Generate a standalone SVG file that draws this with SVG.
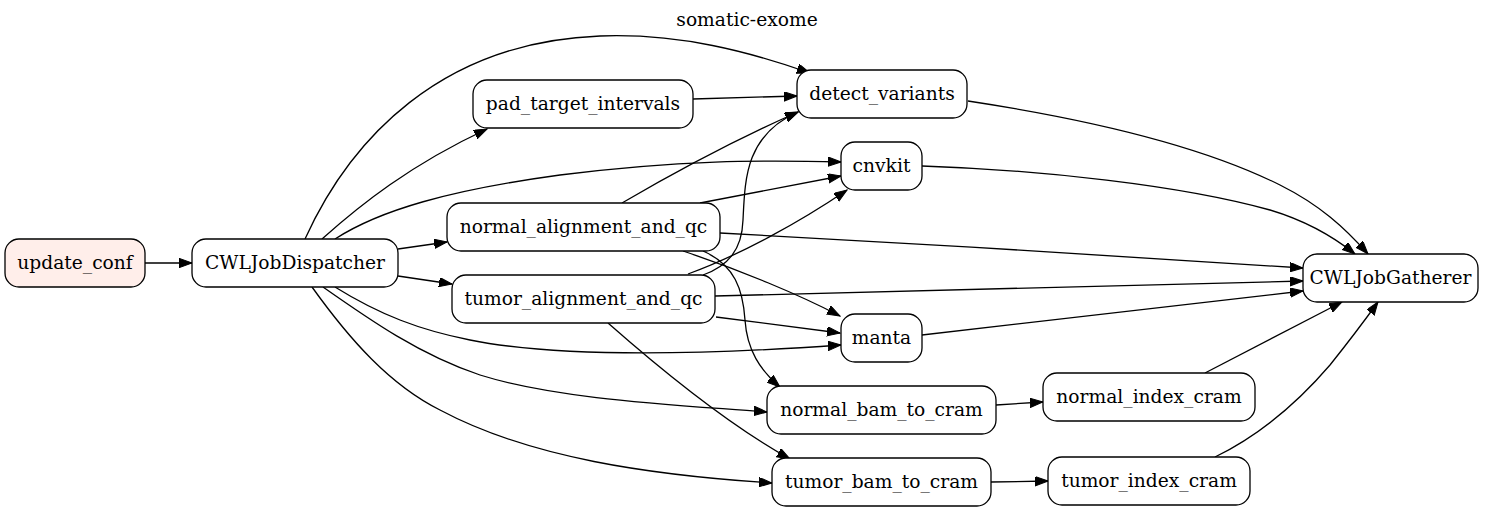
<svg xmlns="http://www.w3.org/2000/svg" width="1495" height="512" viewBox="0 0 1495 512">
<style>
.n rect{fill:#fff;stroke:#000;stroke-width:1.3}
text{font-family:'DejaVu Serif',serif;font-size:18.67px;fill:#000;text-anchor:middle}
.e path{fill:none;stroke:#000;stroke-width:1.3;marker-end:url(#ah)}
</style>
<defs>
<marker id="ah" markerUnits="userSpaceOnUse" markerWidth="14" markerHeight="10" refX="13" refY="4.7" orient="auto">
<path d="M0,0 L13,4.7 L0,9.4 z" fill="#000" stroke="#000" stroke-width="1"/>
</marker>
</defs>
<rect width="1495" height="512" fill="#fff"/>
<text x="747" y="26">somatic-exome</text>
<g class="e" id="edges">
<path d="M145,263 L192,263"/>
<path d="M305,239 C350,140 440,42 600,36 C680,33 750,52 810,73"/>
<path d="M322,239 C360,205 410,165 487,129"/>
<path d="M335,239 C380,210 450,190 560,175 C680,160 760,160 841,162"/>
<path d="M398,249 L447,242"/>
<path d="M398,276 L452,284"/>
<path d="M335,287 C380,315 420,330 470,340 C560,358 700,355 841,345"/>
<path d="M323,287 C370,320 420,355 480,375 C560,400 680,405 767,412"/>
<path d="M312,287 C350,340 390,385 440,410 C530,458 650,475 772,483"/>
<path d="M693,99 L797,96"/>
<path d="M622,203 C670,175 730,142 798,112"/>
<path d="M703,275 C728,266 742,250 743,220 C745,180 745,135 798,112"/>
<path d="M700,203 L841,176"/>
<path d="M688,274 C740,255 800,222 847,190"/>
<path d="M683,251 C740,270 800,295 840,316"/>
<path d="M703,251 C735,265 743,290 745,320 C747,350 760,370 780,387"/>
<path d="M720,233 C900,242 1150,258 1303,268"/>
<path d="M715,296 L1303,281"/>
<path d="M716,317 L840,333"/>
<path d="M608,323 C650,360 720,420 790,459"/>
<path d="M968,101 C1080,118 1200,145 1280,185 C1320,205 1345,228 1368,254"/>
<path d="M922,166 C1040,170 1180,185 1270,210 C1310,222 1335,238 1355,254"/>
<path d="M922,335 L1303,291"/>
<path d="M1205,373 L1342,302"/>
<path d="M1215,457 C1260,435 1300,400 1330,365 C1350,340 1365,320 1378,302"/>
<path d="M996,405 L1043,402"/>
<path d="M991,482 L1048,481"/>
</g>
<g class="n" id="update_conf"><rect x="5" y="239" width="140" height="48" rx="14" style="fill:#ffeeea"/><text x="75" y="269">update_conf</text></g>
<g class="n" id="CWLJobDispatcher"><rect x="192" y="239" width="206" height="48" rx="14"/><text x="295" y="269">CWLJobDispatcher</text></g>
<g class="n" id="pad_target_intervals"><rect x="473" y="80" width="220" height="48" rx="14"/><text x="583" y="110">pad_target_intervals</text></g>
<g class="n" id="detect_variants"><rect x="797" y="70" width="170" height="48" rx="14"/><text x="882" y="100">detect_variants</text></g>
<g class="n" id="cnvkit"><rect x="841" y="142" width="81" height="48" rx="14"/><text x="881.5" y="172">cnvkit</text></g>
<g class="n" id="normal_alignment_and_qc"><rect x="447" y="203" width="273" height="48" rx="14"/><text x="583.5" y="233">normal_alignment_and_qc</text></g>
<g class="n" id="tumor_alignment_and_qc"><rect x="452" y="275" width="263" height="48" rx="14"/><text x="583.5" y="305">tumor_alignment_and_qc</text></g>
<g class="n" id="manta"><rect x="841" y="314" width="81" height="48" rx="14"/><text x="881.5" y="344">manta</text></g>
<g class="n" id="normal_bam_to_cram"><rect x="767" y="386" width="229" height="48" rx="14"/><text x="881.5" y="416">normal_bam_to_cram</text></g>
<g class="n" id="normal_index_cram"><rect x="1043" y="373" width="212" height="48" rx="14"/><text x="1149" y="403">normal_index_cram</text></g>
<g class="n" id="tumor_bam_to_cram"><rect x="772" y="458" width="219" height="48" rx="14"/><text x="881.5" y="488">tumor_bam_to_cram</text></g>
<g class="n" id="tumor_index_cram"><rect x="1048" y="457" width="202" height="48" rx="14"/><text x="1149" y="487">tumor_index_cram</text></g>
<g class="n" id="CWLJobGatherer"><rect x="1303" y="254" width="175" height="48" rx="14"/><text x="1390.5" y="284">CWLJobGatherer</text></g>
</svg>
